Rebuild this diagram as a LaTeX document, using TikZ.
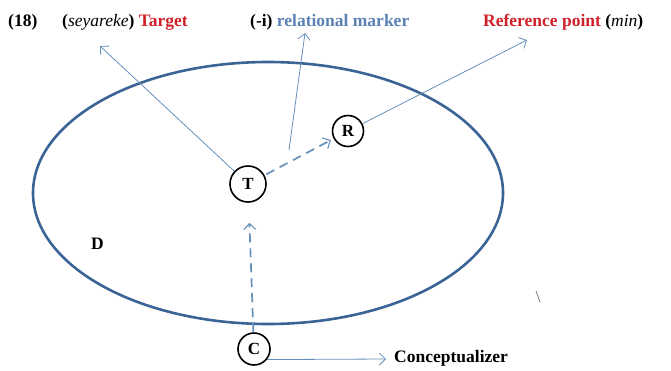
\documentclass[tikz,border=0pt]{standalone}
\usepackage{fontspec}
\setmainfont{Liberation Serif}
\usetikzlibrary{arrows.meta}
\definecolor{ellblue}{HTML}{3B6496}
\definecolor{arrblue}{HTML}{6690BC}
\definecolor{labred}{HTML}{D0202A}
\definecolor{labblue}{HTML}{5B82B5}

\begin{document}
\begin{tikzpicture}[x=1pt, y=-1pt,
    role/.style={circle, draw, line width=1.6pt, minimum size=36pt, inner sep=0pt, font=\bfseries\fontsize{17}{17}\selectfont},
    pointer/.style={draw=arrblue, line width=0.8pt, -{Straight Barb[length=6pt,width=12pt]}},
    dashptr/.style={draw=arrblue, line width=1.7pt, dash pattern=on 9pt off 6pt, -{Straight Barb[length=6pt,width=12pt,line width=1.1pt]}},
    label/.style={font=\bfseries\fontsize{17.5}{20}\selectfont, anchor=base west, inner sep=0pt}
]
\useasboundingbox (0,0) rectangle (671,370);

% domain
\draw[ellblue, line width=2.6pt] (268,193) ellipse [x radius=235, y radius=131];
\node[label] (dom) at (91,249) {D};

% participants
\node[role] (T) at (248,184) {T};
\node[role, minimum size=31pt] (R) at (348,131) {R};
\node[role, minimum size=32pt] (C) at (254,349) {C};

% labels on top
\node[label] (num) at (8,26) {(18)};
\node[label] (target) at (62,26) {(\textit{\mdseries seyareke}) \textcolor{labred}{Target}};
\node[label] (marker) at (250,26) {(-i) \textcolor{labblue}{relational marker}};
\node[label] (refpt) at (483,26) {\textcolor{labred}{Reference point} (\textit{\mdseries min})};
\node[label] (concept) at (394,362) {Conceptualizer};

\coordinate (tgtend) at (100,46);
\coordinate (mkfoot) at (289,150);
\coordinate (mkend) at (305,33);
\coordinate (refend) at (527,40);
\coordinate (conend) at (386,359);

\draw[pointer] (T) -- (tgtend);
\draw[pointer] (mkfoot) -- (mkend);
\draw[pointer] (R) -- (refend);
\draw[pointer] (C.-39) -- (conend);
\draw[dashptr, shorten <=2pt, shorten >=3pt] (T) -- (R);
\draw[dashptr, shorten >=20pt] (C) -- (T);

% stray mark
\draw[gray, line width=0.8pt] (536,291) -- (540,302);
\end{tikzpicture}
\end{document}
